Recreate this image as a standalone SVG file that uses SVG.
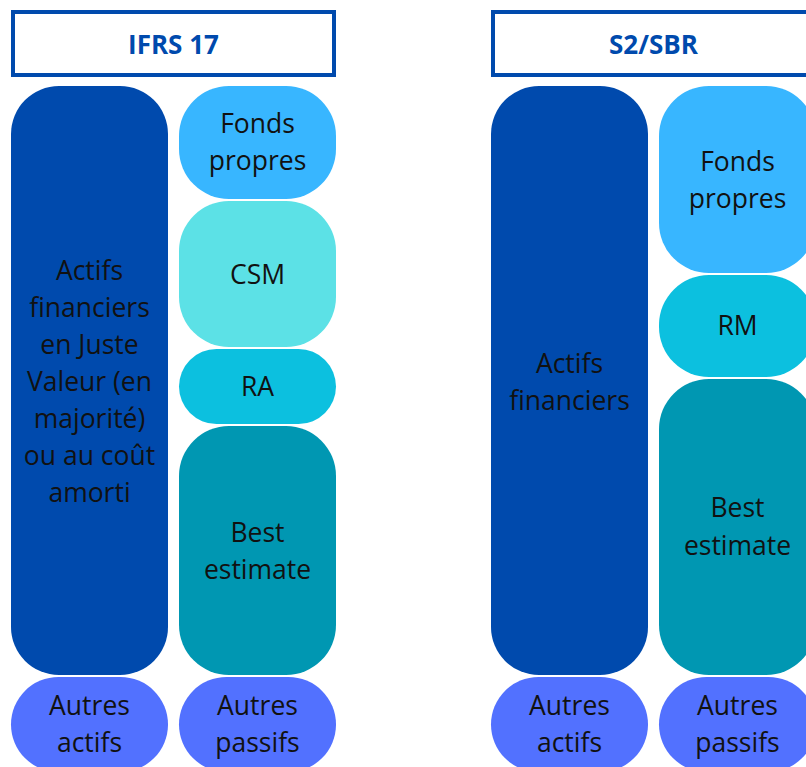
<svg xmlns="http://www.w3.org/2000/svg" width="806" height="767" viewBox="0 0 806 767">
<style>
.hdr{fill:#fff;stroke:#004AAD;stroke-width:4}
.ht{font-family:"Open Sans","Liberation Sans",sans-serif;font-weight:700;font-size:26px;fill:#004AAD;text-anchor:middle}
.t{font-family:"Open Sans","Liberation Sans",sans-serif;font-size:26.5px;fill:#111;text-anchor:middle}
.dark{fill:#004AAD}
.fp{fill:#38B6FF}
.csm{fill:#5CE1E6}
.ra{fill:#0CC0DF}
.be{fill:#0097B2}
.au{fill:#5271FF}
</style>
<rect width="806" height="767" fill="#fff"/>
<g id="hdr-ifrs">
<rect class="hdr" x="13" y="12" width="321" height="63"/>
<text class="ht" x="173.5" y="54">IFRS 17</text>
</g>
<g id="hdr-s2">
<rect class="hdr" x="493" y="12" width="321" height="63"/>
<text class="ht" x="653.5" y="54">S2/SBR</text>
</g>
<g id="ifrs-actifs">
<rect class="dark" x="11" y="86" width="157" height="589" rx="48"/>
<text class="t" x="89.5"><tspan x="89.5" y="280">Actifs</tspan><tspan x="89.5" y="317">financiers</tspan><tspan x="89.5" y="354">en Juste</tspan><tspan x="89.5" y="391">Valeur (en</tspan><tspan x="89.5" y="428">majorité)</tspan><tspan x="89.5" y="465">ou au coût</tspan><tspan x="89.5" y="502">amorti</tspan></text>
</g>
<g id="ifrs-fp">
<rect class="fp" x="179" y="86" width="157" height="113" rx="50"/>
<text class="t"><tspan x="257.5" y="133">Fonds</tspan><tspan x="257.5" y="170">propres</tspan></text>
</g>
<g id="ifrs-csm">
<rect class="csm" x="179" y="201" width="157" height="146" rx="50"/>
<text class="t" x="257.5" y="284">CSM</text>
</g>
<g id="ifrs-ra">
<rect class="ra" x="179" y="349" width="157" height="75" rx="37.5"/>
<text class="t" x="257.5" y="396">RA</text>
</g>
<g id="ifrs-be">
<rect class="be" x="179" y="426" width="157" height="249" rx="50"/>
<text class="t"><tspan x="257.5" y="542">Best</tspan><tspan x="257.5" y="579">estimate</tspan></text>
</g>
<g id="ifrs-autres-actifs">
<rect class="au" x="11" y="677" width="157" height="95" rx="47.5"/>
<text class="t"><tspan x="89.5" y="715">Autres</tspan><tspan x="89.5" y="752">actifs</tspan></text>
</g>
<g id="ifrs-autres-passifs">
<rect class="au" x="179" y="677" width="157" height="95" rx="47.5"/>
<text class="t"><tspan x="257.5" y="715">Autres</tspan><tspan x="257.5" y="752">passifs</tspan></text>
</g>
<g id="s2-actifs">
<rect class="dark" x="491" y="86" width="157" height="589" rx="48"/>
<text class="t"><tspan x="569.5" y="373">Actifs</tspan><tspan x="569.5" y="410">financiers</tspan></text>
</g>
<g id="s2-fp">
<rect class="fp" x="659" y="86" width="157" height="187" rx="50"/>
<text class="t"><tspan x="737.5" y="171">Fonds</tspan><tspan x="737.5" y="208">propres</tspan></text>
</g>
<g id="s2-rm">
<rect class="ra" x="659" y="275" width="157" height="102" rx="50"/>
<text class="t" x="737.5" y="335">RM</text>
</g>
<g id="s2-be">
<rect class="be" x="659" y="379" width="157" height="296" rx="50"/>
<text class="t"><tspan x="737.5" y="517">Best</tspan><tspan x="737.5" y="555">estimate</tspan></text>
</g>
<g id="s2-autres-actifs">
<rect class="au" x="491" y="677" width="157" height="95" rx="47.5"/>
<text class="t"><tspan x="569.5" y="715">Autres</tspan><tspan x="569.5" y="752">actifs</tspan></text>
</g>
<g id="s2-autres-passifs">
<rect class="au" x="659" y="677" width="157" height="95" rx="47.5"/>
<text class="t"><tspan x="737.5" y="715">Autres</tspan><tspan x="737.5" y="752">passifs</tspan></text>
</g>
<g id="connectors"/>
</svg>
